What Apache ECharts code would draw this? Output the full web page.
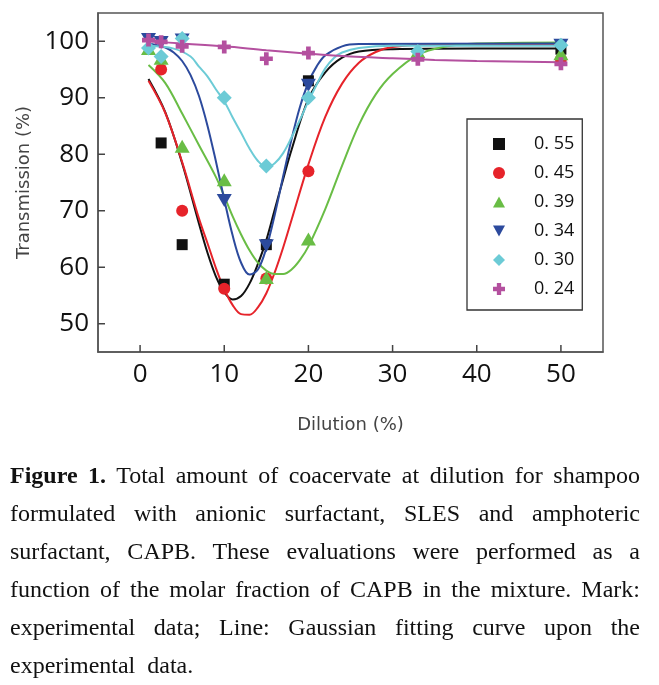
<!DOCTYPE html>
<html>
<head>
<meta charset="utf-8">
<script src="https://cdn.jsdelivr.net/npm/echarts@6/dist/echarts.min.js"></script>
<style>
  html, body { margin: 0; padding: 0; background: #fff; }
  #wrap { position: relative; width: 659px; height: 685px; }
  #chart { position: absolute; left: 0; top: 0; width: 659px; height: 685px; }
  #cap { position: absolute; left: 10px; top: 456px; width: 630px;
         font-family: "Liberation Serif", "Times New Roman", serif; font-size: 24px;
         line-height: 38px; color: #111; letter-spacing: 0; }
  #cap .j { text-align: justify; text-align-last: justify; }
  #cap .w { word-spacing: 6px; }
</style>
</head>
<body>
<div id="wrap">
  <div id="chart"></div>
  <div id="cap">
    <div class="j"><b>Figure 1.</b> Total amount of coacervate at dilution for shampoo</div>
    <div class="j">formulated with anionic surfactant, SLES and amphoteric</div>
    <div class="j">surfactant, CAPB. These evaluations were performed as a</div>
    <div class="j">function of the molar fraction of CAPB in the mixture. Mark:</div>
    <div class="j">experimental data; Line: Gaussian fitting curve upon the</div>
    <div class="w">experimental data.</div>
  </div>
</div>
<script>
// ---- tick values ----
const xTicks = [0, 10, 20, 30, 40, 50];
const yTicks = [50, 60, 70, 80, 90, 100];

// ---- series names (molar fraction of CAPB) ----
const seriesNames = ['0. 55', '0. 45', '0. 39', '0. 34', '0. 30', '0. 24'];

// ---- experimental data (markers) ----
const m055X = [2.5, 5, 10, 15, 20, 50];
const m055Y = [82, 64, 57, 64, 93, 98.6];
const m045X = [2.5, 5, 10, 15, 20, 50];
const m045Y = [95, 70, 56.2, 58, 77, 96.8];
const m039X = [1, 2.5, 5, 10, 15, 20, 33, 50];
const m039Y = [98.7, 97, 81.4, 75.5, 58.2, 65, 98.2, 97.8];
const m034X = [1, 2.5, 5, 10, 15, 20, 50];
const m034Y = [100.3, 99.8, 100.2, 71.8, 63.8, 92.2, 99.3];
const m030X = [1, 2.5, 5, 10, 15, 20, 33, 50];
const m030Y = [98.8, 97.3, 100.5, 90, 77.9, 90, 98.2, 99.3];
const m024X = [1, 2.5, 5, 10, 15, 20, 33, 50];
const m024Y = [100.2, 99.9, 99.1, 99.0, 96.9, 97.9, 96.8, 96.0];

// ---- fitted curves ----
const f055X = [1, 3, 5, 7, 8, 9, 10, 11, 12, 13, 14, 15, 16, 17, 18, 20, 22, 24, 26, 30, 40, 50];
const f055Y = [93.3, 87.4, 78.4, 67.7, 62.6, 58.4, 55.6, 54.3, 54.9, 57.1, 60.6, 64.8, 70.2, 75.6, 80.8, 89.8, 94.5, 97.1, 98.2, 98.6, 98.7, 98.7];
const f045X = [1, 3, 5, 7, 8, 9, 10, 11, 12, 13, 14, 15, 16, 17, 18, 20, 22, 24, 26, 28, 30, 35, 50];
const f045Y = [93.0, 87.3, 78.6, 68.6, 64.3, 59.9, 56.1, 53.3, 51.7, 51.6, 52.9, 55.4, 59.1, 63.5, 68.4, 78.2, 86.6, 92.5, 96.2, 98.1, 99.0, 99.5, 99.5];
const f039X = [1, 3, 5, 7, 9, 10, 11, 12, 13, 14, 15, 16, 17, 18, 19, 20, 22, 24, 26, 28, 30, 33, 36, 40, 50];
const f039Y = [95.8, 92.6, 87.2, 81.6, 76.0, 72.6, 69.0, 65.8, 63.0, 60.8, 59.4, 58.8, 58.8, 59.6, 61.3, 63.7, 70.3, 78.0, 85.2, 90.6, 94.2, 97.6, 99.0, 99.6, 99.8];
const f034X = [1, 3, 4, 5, 6, 7, 8, 9, 10, 11, 12, 13, 14, 15, 16, 17, 18, 19, 20, 21, 22, 24, 26, 50];
const f034Y = [99.6, 98.9, 98.0, 96.5, 94.0, 90.3, 85.1, 78.8, 72.0, 65.6, 60.8, 58.7, 59.6, 63.4, 69.3, 76.1, 82.7, 88.4, 92.7, 95.6, 97.5, 99.1, 99.5, 99.6];
const f030X = [1, 4, 6, 7, 8, 9, 10, 11, 12, 13, 14, 15, 16, 17, 18, 19, 20, 21, 22, 23, 24, 26, 30, 50];
const f030Y = [99.2, 98.7, 97.3, 95.5, 93.8, 91.5, 89.4, 86.5, 83.8, 81.0, 78.8, 77.7, 78.4, 80.2, 83.0, 86.1, 89.4, 92.4, 95.2, 97.0, 98.0, 98.8, 99.2, 99.2];
const f024X = [1, 5, 10, 15, 20, 25, 30, 35, 40, 50];
const f024Y = [100.0, 99.6, 99.1, 98.4, 97.8, 97.3, 97.0, 96.7, 96.5, 96.3];

const colors = ['#111111', '#e6232a', '#69bd45', '#2c4a9d', '#6ccbd6', '#b4509f'];
const symbols = ['rect', 'circle', 'path://M5,0L10,9H0Z', 'path://M0,0H10L5,9Z', 'diamond',
  'path://M3.2,0H6.8V3.2H10V6.8H6.8V10H3.2V6.8H0V3.2H3.2Z'];
const symbolSizes = [11, 12, [15, 13], [15, 13], 15, 13];

const X_MIN = -5, X_MAX = 55, Y_MIN = 45, Y_MAX = 105;

const markX = [m055X, m045X, m039X, m034X, m030X, m024X];
const markY = [m055Y, m045Y, m039Y, m034Y, m030Y, m024Y];
const fitX = [f055X, f045X, f039X, f034X, f030X, f024X];
const fitY = [f055Y, f045Y, f039Y, f034Y, f030Y, f024Y];

const zip = (xs, ys) => xs.map((x, i) => [x, ys[i]]);

const series = [];
for (let i = 0; i < seriesNames.length; i++) {
  series.push({
    name: seriesNames[i] + ' fit',
    type: 'line',
    data: zip(fitX[i], fitY[i]),
    smooth: 0.35,
    showSymbol: false,
    lineStyle: { color: colors[i], width: 2 },
    itemStyle: { color: colors[i] },
    z: 2
  });
}
for (let i = 0; i < seriesNames.length; i++) {
  series.push({
    name: seriesNames[i],
    type: 'scatter',
    data: zip(markX[i], markY[i]),
    symbol: symbols[i],
    symbolSize: symbolSizes[i],
    itemStyle: { color: colors[i], opacity: 1 },
    z: 3
  });
}

// inward tick marks placed through the axes' own scales
const TICK_LEN = 7;
series.push({
  name: 'x ticks', type: 'custom', silent: true, z: 6, clip: false,
  data: xTicks.map(v => [v, Y_MIN]),
  renderItem: (params, api) => {
    const p = api.coord([api.value(0), api.value(1)]);
    return { type: 'line', shape: { x1: p[0], y1: p[1], x2: p[0], y2: p[1] - TICK_LEN },
             style: { stroke: '#444', lineWidth: 1.5 } };
  }
});
series.push({
  name: 'y ticks', type: 'custom', silent: true, z: 6, clip: false,
  data: yTicks.map(v => [X_MIN, v]),
  renderItem: (params, api) => {
    const p = api.coord([api.value(0), api.value(1)]);
    return { type: 'line', shape: { x1: p[0], y1: p[1], x2: p[0] + TICK_LEN, y2: p[1] },
             style: { stroke: '#444', lineWidth: 1.5 } };
  }
});

const chart = echarts.init(document.getElementById('chart'), null, { renderer: 'canvas' });
chart.setOption({
  animation: false,
  backgroundColor: '#fff',
  grid: {
    left: 98, top: 13, right: 56, bottom: 333,
    show: true, borderColor: '#555', borderWidth: 1.5, backgroundColor: 'transparent'
  },
  legend: {
    data: seriesNames.map((n, i) => ({ name: n, icon: symbols[i] })),
    orient: 'vertical',
    left: 467, top: 119,
    padding: [16, 8, 12, 26],
    itemGap: 11,
    itemWidth: 12, itemHeight: 12,
    borderColor: '#333', borderWidth: 1.3,
    backgroundColor: '#fff',
    textStyle: { fontFamily: 'Open Sans', fontSize: 18, color: '#111', lineHeight: 18, padding: [0, 0, 0, 24] }
  },
  xAxis: {
    type: 'value', min: X_MIN, max: X_MAX, splitNumber: 6,
    name: 'Dilution (%)', nameLocation: 'middle', nameGap: 64,
    nameTextStyle: { fontFamily: 'DejaVu Sans', fontSize: 18, color: '#444' },
    axisLine: { show: true, onZero: false, lineStyle: { color: '#555', width: 1.5 } },
    axisTick: { show: false },
    axisLabel: { show: true, customValues: xTicks, fontFamily: 'Open Sans', fontSize: 26, color: '#111', margin: 10 },
    splitLine: { show: false }
  },
  yAxis: {
    type: 'value', min: Y_MIN, max: Y_MAX, splitNumber: 6,
    name: 'Transmission (%)', nameLocation: 'middle', nameGap: 57, nameRotate: 90,
    nameTextStyle: { fontFamily: 'DejaVu Sans', fontSize: 18, color: '#444' },
    axisLine: { show: true, onZero: false, lineStyle: { color: '#555', width: 1.5 } },
    axisTick: { show: false },
    axisLabel: { show: true, customValues: yTicks, fontFamily: 'Open Sans', fontSize: 26, color: '#111', margin: 9 },
    splitLine: { show: false }
  },
  series: series
});
</script>
</body>
</html>
